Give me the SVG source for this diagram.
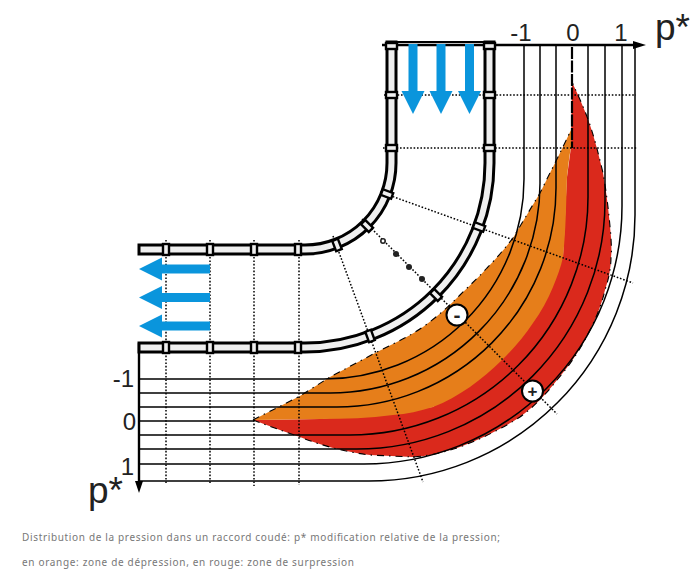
<svg xmlns="http://www.w3.org/2000/svg" width="695" height="588" viewBox="0 0 695 588">
<style>
.cur{fill:none;stroke:#000;stroke-width:1.5}
.dot{fill:none;stroke:#000;stroke-width:1.5;stroke-dasharray:1.6 1.8}
.edge{fill:none;stroke:#000;stroke-width:1.1;stroke-dasharray:7 5 1.5 5}
.band{fill:#efefef;stroke:#000;stroke-width:3}
.clamp{fill:#efefef;stroke:#000;stroke-width:2.400}
.blue{fill:#0a95dc}
.lab{font-family:"Liberation Sans",Arial,sans-serif;fill:#222}
.cap{font-family:"Noto Sans","Liberation Sans",sans-serif;font-size:10px;fill:#777}
.sign{fill:#fff;stroke:#000;stroke-width:2}
</style>
<defs>
<rect id="c" class="clamp" x="-5.500" y="-3" width="11" height="6"/>
</defs>
<g id="zones">
<path id="red" fill="#da291c" d="M253,420 L280,430 L300,437 C320,445 345,452 370,455 L413,457 C430,456 445,452 460,447 C483,438 503,428 520,417 C535,406 546,394 557,380 C570,365 582,347 590,330 C597,316 602,303 605,290 C609,278 611,267 611,257 C612,250 611,243 611,237 C609,215 607,195 603,173 C599,156 595,140 590,125 C585,110 578,95 572,82 L571,147 L567,177 L563,257 L433,407 L320,419 Z"/>
<path id="orange" fill="#e67e1a" d="M253,420 L300,396 L330,377 L377,352 C395,343 410,336 423,327 C437,317 449,306 460,295 C469,286 478,278 487,268 C497,258 505,248 513,238 L540,193 L560,153 L571,130 L571,147 C569,157 568,168 567,177 C566,205 566,230 563,257 C561,267 557,277 553,287 C548,299 541,312 533,323 C524,337 513,349 502,360 C492,370 481,379 470,387 C458,395 446,402 433,407 C420,411 407,414 393,415 C370,418 345,419 320,419 Z"/>
<path class="edge" d="M253,420 L300,396 L330,377 L377,352 C395,343 410,336 423,327 C437,317 449,306 460,295 C469,286 478,278 487,268 C497,258 505,248 513,238 L540,193 L560,153 L571,130"/>
<path class="edge" d="M253,420 L280,430 L300,437 C320,445 345,452 370,455 L413,457 C430,456 445,452 460,447 C483,438 503,428 520,417 C535,406 546,394 557,380 C570,365 582,347 590,330 C597,316 602,303 605,290 C609,278 611,267 611,257 C612,250 611,243 611,237 C609,215 607,195 603,173 C599,156 595,140 590,125 C585,110 578,95 572,82"/>
</g>
<g id="connectors">
<path class="cur" d="M524,45 V179 A200,200 0 0 1 324,379 H139"/>
<path class="cur" d="M540,45 V183.500 A209.500,209.500 0 0 1 330.500,393 H139"/>
<path class="cur" d="M556,45 V188 A219,219 0 0 1 337,407 H139"/>
<path class="cur" d="M605,45 V201 A248,248 0 0 1 357,449 H139"/>
<path class="cur" d="M588,45 V197 A238,238 0 0 1 350,435 H139"/>
<path class="cur" d="M622,45 V206 A258,258 0 0 1 364,464 H139"/>
<path class="cur" d="M635,45 V215 A266,266 0 0 1 369,481 H139"/>
<path class="cur" d="M140,421 H254"/>
<path d="M572,47 V148" fill="none" stroke="#000" stroke-width="2.200" stroke-dasharray="12 1.500"/>
<path class="dot" d="M384,95 H636 M383,148 H638"/>
<path class="dot" d="M166,240 V484 M210,240 V484 M254,240 V486 M299,240 V485"/>
<path class="dot" d="M380,192 L633,283 M362,219 L557,414 M333,236 L423,482"/>
<path d="M382,45 H636" fill="none" stroke="#000" stroke-width="2.400"/>
<path d="M633,41 L646,45 L633,49 Z" fill="#000"/>
<path d="M139,343 V486" fill="none" stroke="#000" stroke-width="2.400"/>
<path d="M135,481 L139,493 L143,481 Z" fill="#000"/>
</g>
<g id="pipe">
<path class="band" d="M139,245 H305 A82,82 0 0 0 387,163 V42 H396 V163 A91,91 0 0 1 305,254 H139 Z"/>
<path class="band" d="M139,343 H305 A180,180 0 0 0 485,163 V42 H494 V163 A189,189 0 0 1 305,352 H139 Z"/>
<path d="M387,42 H494" fill="none" stroke="#000" stroke-width="2"/>
<use href="#c" transform="translate(391.500,46)"/><use href="#c" transform="translate(391.500,95)"/><use href="#c" transform="translate(391.500,148)"/>
<use href="#c" transform="translate(489.500,46)"/><use href="#c" transform="translate(489.500,95)"/><use href="#c" transform="translate(489.500,148)"/>
<use href="#c" transform="translate(166,249.500) rotate(90)"/><use href="#c" transform="translate(210,249.500) rotate(90)"/><use href="#c" transform="translate(254,249.500) rotate(90)"/><use href="#c" transform="translate(298,249.500) rotate(90)"/>
<use href="#c" transform="translate(166,347.500) rotate(90)"/><use href="#c" transform="translate(210,347.500) rotate(90)"/><use href="#c" transform="translate(254,347.500) rotate(90)"/><use href="#c" transform="translate(298,347.500) rotate(90)"/>
<use href="#c" transform="translate(387,194) rotate(20.500)"/><use href="#c" transform="translate(367,226) rotate(45)"/><use href="#c" transform="translate(337,245) rotate(69)"/>
<use href="#c" transform="translate(479,227) rotate(20.500)"/><use href="#c" transform="translate(436,295) rotate(45)"/><use href="#c" transform="translate(370,336) rotate(69.500)"/>
</g>
<g id="centre-dots" fill="#222">
<circle cx="383" cy="241" r="2.200" fill="#fff" stroke="#222" stroke-width="1.600"/>
<circle cx="396" cy="254" r="3"/><circle cx="409" cy="267" r="3"/><circle cx="422" cy="279" r="3"/>
</g>
<g id="flow-arrows" class="blue">
<path d="M408.500,44 h9 v47 h7 l-11.500,23 l-11.500,-23 h7 z"/>
<path d="M436.500,44 h9 v47 h7 l-11.500,23 l-11.500,-23 h7 z"/>
<path d="M465,44 h9 v47 h7 l-11.500,23 l-11.500,-23 h7 z"/>
<path d="M210,264.500 v9 h-48 v7 l-23,-11.500 l23,-11.500 v7 z"/>
<path d="M210,293 v9 h-48 v7 l-23,-11.500 l23,-11.500 v7 z"/>
<path d="M210,321.500 v9 h-48 v7 l-23,-11.500 l23,-11.500 v7 z"/>
</g>
<g id="sign-minus"><circle class="sign" cx="457" cy="315" r="10.500"/><text class="lab" x="457" y="322" font-size="21" font-weight="bold" text-anchor="middle">-</text></g>
<g id="sign-plus"><circle class="sign" cx="532.500" cy="391" r="10.500"/><text class="lab" x="532.500" y="397" font-size="17" font-weight="bold" text-anchor="middle">+</text></g>
<g id="labels">
<text class="lab" x="521" y="41" font-size="24" text-anchor="middle">-1</text>
<text class="lab" x="573" y="41" font-size="24" text-anchor="middle">0</text>
<text class="lab" x="621" y="41" font-size="24" text-anchor="middle">1</text>
<text class="lab" x="655" y="40" font-size="37">p*</text>
<text class="lab" x="134" y="387" font-size="24" text-anchor="end">-1</text>
<text class="lab" x="136" y="430" font-size="24" text-anchor="end">0</text>
<text class="lab" x="134" y="475" font-size="24" text-anchor="end">1</text>
<text class="lab" x="88" y="503" font-size="37">p*</text>
</g>
<g id="caption">
<text class="cap" x="22" y="541" textLength="478">Distribution de la pression dans un raccord coudé: p* modification relative de la pression;</text>
<text class="cap" x="22" y="566" textLength="332">en orange: zone de dépression, en rouge: zone de surpression</text>
</g>
</svg>
